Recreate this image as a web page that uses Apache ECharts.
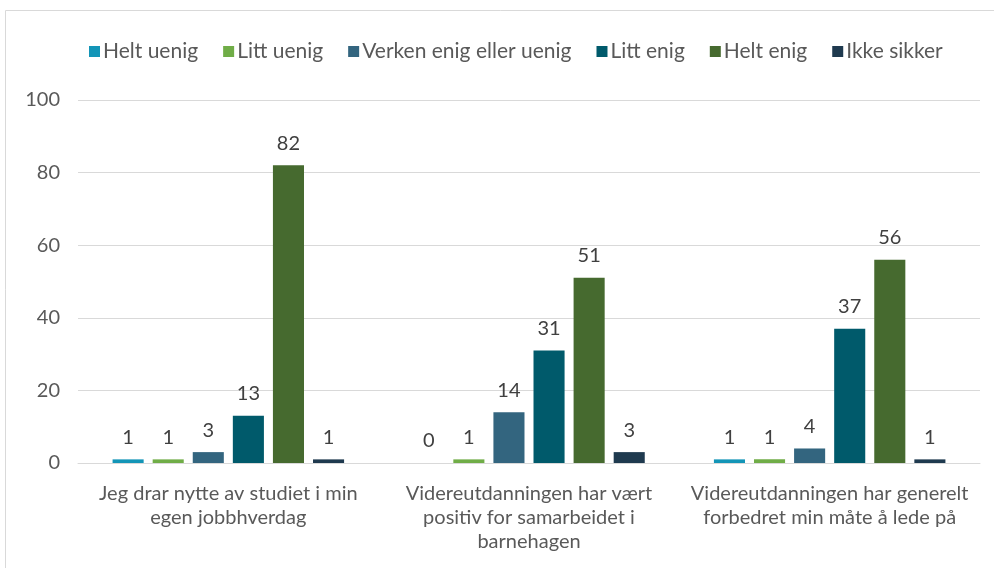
<!DOCTYPE html>
<html>
<head>
<meta charset="utf-8">
<script src="https://cdn.jsdelivr.net/npm/echarts@6/dist/echarts.min.js"></script>
<style>
  html, body { margin: 0; padding: 0; background: #fff; }
  #chart { width: 994px; height: 568px; }
</style>
</head>
<body>
<div id="chart"></div>
<script>
// kategorier (linjeskift som i originalen)
const categories = [
  "Jeg drar nytte av studiet i min\negen jobbhverdag",
  "Videreutdanningen har vært\npositiv for samarbeidet i\nbarnehagen",
  "Videreutdanningen har generelt\nforbedret min måte å lede på"
];
const seriesNames = ["Helt uenig", "Litt uenig", "Verken enig eller uenig", "Litt enig", "Helt enig", "Ikke sikker"];
const heltUenig = [1, 0, 1];
const littUenig = [1, 1, 1];
const verken = [3, 14, 4];
const littEnig = [13, 31, 37];
const heltEnig = [82, 51, 56];
const ikkeSikker = [1, 3, 1];
const yTicks = [0, 20, 40, 60, 80, 100];

const colors = ["#1395b7", "#70ad47", "#33657f", "#005a6b", "#466a2f", "#1f3a4f"];
const values = [heltUenig, littUenig, verken, littEnig, heltEnig, ikkeSikker];
const fontFamily = "Lato";

const chart = echarts.init(document.getElementById("chart"));
chart.setOption({
  color: colors,
  textStyle: { fontFamily: fontFamily },
  graphic: [
    {
      type: "rect",
      shape: { x: 5.5, y: 10.5, width: 1000, height: 600 },
      style: { fill: "none", stroke: "#d9d9d9", lineWidth: 1 },
      silent: true,
    },
  ],
  legend: {
    data: seriesNames,
    top: 36,
    left: 84,
    itemWidth: 11,
    itemHeight: 11,
    itemGap: 25,
    icon: "rect",
    textStyle: { fontSize: 21, color: "#595959", fontFamily: fontFamily, padding: [0, 0, 0, -2] },
  },
  grid: {
    left: 78,
    right: 14,
    top: 100,
    bottom: 105,
  },
  xAxis: {
    type: "category",
    data: categories,
    axisTick: { show: false },
    axisLine: { lineStyle: { color: "#d9d9d9", width: 1 } },
    axisLabel: {
      interval: 0,
      fontSize: 20,
      color: "#595959",
      lineHeight: 24,
      margin: 19,
      fontFamily: fontFamily,
    },
  },
  yAxis: {
    type: "value",
    min: yTicks[0],
    max: yTicks[yTicks.length - 1],
    interval: 20,
    axisLine: { show: false },
    axisTick: { show: false },
    splitLine: { lineStyle: { color: "#d9d9d9", width: 1 } },
    axisLabel: { fontSize: 20, color: "#595959", margin: 18, fontFamily: fontFamily },
  },
  series: seriesNames.map((name, i) => ({
    name: name,
    type: "bar",
    data: values[i],
    barGap: "29%",
    barCategoryGap: "23%",
    label: {
      show: true,
      position: "top",
      distance: 12,
      fontSize: 20,
      color: "#404040",
      fontFamily: fontFamily,
    },
  })),
});
</script>
</body>
</html>
